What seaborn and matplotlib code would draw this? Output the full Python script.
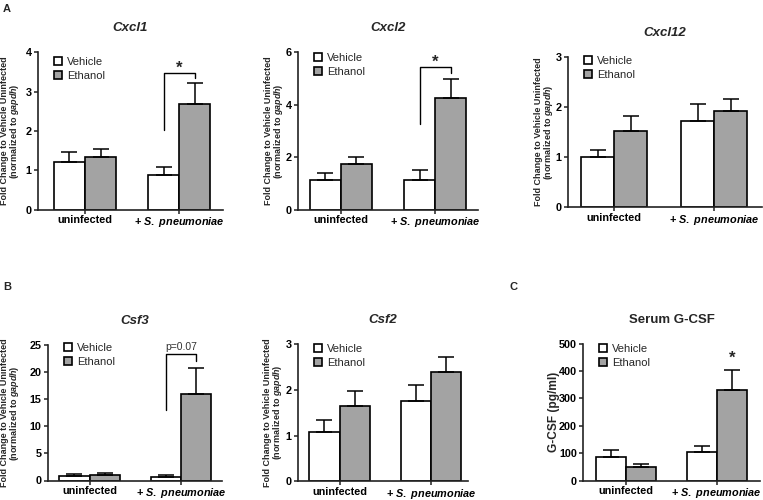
import pandas as pd
import matplotlib.pyplot as plt
import seaborn as sns

# Groups and treatments
conditions = ['uninfected', '+ $S.\\ pneumoniae$']
treatments = ['Vehicle', 'Ethanol']

# Means and SEM (upper error only)
cxcl1_vehicle = [1.21, 0.88]
cxcl1_ethanol = [1.34, 2.69]
cxcl1_vehicle_err = [0.26, 0.21]
cxcl1_ethanol_err = [0.19, 0.53]

cxcl2_vehicle = [1.12, 1.13]
cxcl2_ethanol = [1.74, 4.24]
cxcl2_vehicle_err = [0.26, 0.37]
cxcl2_ethanol_err = [0.28, 0.75]

cxcl12_vehicle = [1.00, 1.72]
cxcl12_ethanol = [1.52, 1.91]
cxcl12_vehicle_err = [0.15, 0.33]
cxcl12_ethanol_err = [0.30, 0.25]

csf3_vehicle = [0.92, 0.67]
csf3_ethanol = [1.10, 15.9]
csf3_vehicle_err = [0.28, 0.37]
csf3_ethanol_err = [0.25, 4.9]

csf2_vehicle = [1.07, 1.76]
csf2_ethanol = [1.64, 2.38]
csf2_vehicle_err = [0.27, 0.34]
csf2_ethanol_err = [0.33, 0.34]

gcsf_vehicle = [87, 106]
gcsf_ethanol = [51, 330]
gcsf_vehicle_err = [24, 21]
gcsf_ethanol_err = [12, 75]

qpcr_label = 'Fold Change to Vehicle Uninfected\n(normalized to $gapdh$)'

# title, italic, ylabel, vehicle, ethanol, verr, eerr, ymax, ystep,
# axes box in pixels (left, top, right, bottom), xlim, ylabel right edge px, legend top px
panels = [
    ('Cxcl1', True, qpcr_label, cxcl1_vehicle, cxcl1_ethanol, cxcl1_vehicle_err, cxcl1_ethanol_err,
     4, 1, (38, 52.3, 223, 209.7), (-0.498, 1.463), 21, 57),
    ('Cxcl2', True, qpcr_label, cxcl2_vehicle, cxcl2_ethanol, cxcl2_vehicle_err, cxcl2_ethanol_err,
     6, 2, (298, 52, 478, 209.7), (-0.457, 1.457), 285, 53),
    ('Cxcl12', True, qpcr_label, cxcl12_vehicle, cxcl12_ethanol, cxcl12_vehicle_err, cxcl12_ethanol_err,
     3, 1, (568, 56.7, 762, 207.3), (-0.46, 1.48), 555, 56),
    ('Csf3', True, qpcr_label, csf3_vehicle, csf3_ethanol, csf3_vehicle_err, csf3_ethanol_err,
     25, 5, (48, 345, 222, 480.5), (-0.454, 1.448), 21, 343),
    ('Csf2', True, qpcr_label, csf2_vehicle, csf2_ethanol, csf2_vehicle_err, csf2_ethanol_err,
     3, 1, (298, 344, 468, 481.3), (-0.454, 1.404), 284, 344),
    ('Serum G-CSF', False, 'G-CSF (pg/ml)', gcsf_vehicle, gcsf_ethanol, gcsf_vehicle_err, gcsf_ethanol_err,
     500, 100, (583, 343.5, 760, 480.8), (-0.469, 1.476), 560, 344),
]

W, H = 763, 500
sns.set_style('ticks')
plt.rcParams['font.family'] = ['Liberation Sans', 'DejaVu Sans']
plt.rcParams['mathtext.fontset'] = 'custom'
plt.rcParams['mathtext.it'] = 'Liberation Sans:italic:bold'
plt.rcParams['mathtext.rm'] = 'Liberation Sans:bold'
plt.rcParams['mathtext.bf'] = 'Liberation Sans:bold'

fig = plt.figure(figsize=(W / 100, H / 100), dpi=100)
bar_gray = '#a3a3a3'
axes = []

for (title, italic, ylabel, veh, eth, verr, eerr, ymax, ystep,
     box, xlim, lab_x, leg_top) in panels:
    l, t, r, b = box
    ax = fig.add_axes([l / W, 1 - b / H, (r - l) / W, (b - t) / H])
    axes.append(ax)

    df = pd.DataFrame({
        'Condition': conditions * 2,
        'Treatment': [treatments[0]] * 2 + [treatments[1]] * 2,
        'Value': veh + eth,
    })
    sns.barplot(data=df, x='Condition', y='Value', hue='Treatment',
                palette=['white', bar_gray], edgecolor='black', linewidth=1.2,
                width=0.66, errorbar=None, ax=ax)

    # upward-only error bars at the bar centres
    for cont, means, errs in zip(ax.containers, [veh, eth], [verr, eerr]):
        xs = [p.get_x() + p.get_width() / 2 for p in cont.patches]
        ax.errorbar(xs, means, yerr=[[0] * len(errs), errs], fmt='none',
                    ecolor='black', elinewidth=1.1, capsize=5.5, capthick=1.1, zorder=1)

    ax.set_xlim(*xlim)
    ax.set_ylim(0, ymax)
    ax.set_yticks(range(0, ymax + 1, ystep))
    sns.despine(ax=ax)
    for s in ['left', 'bottom']:
        ax.spines[s].set_linewidth(1.2)
        ax.spines[s].set_color('#222222')
    ax.tick_params(axis='both', length=3, width=1.1, labelsize=7.8, colors='#222222')
    ax.tick_params(axis='x', pad=1)
    ax.tick_params(axis='y', pad=1.5)
    for lbl in ax.get_xticklabels() + ax.get_yticklabels():
        lbl.set_fontweight('bold')
        lbl.set_color('black')
    ax.set_xlabel('')

    ax.set_ylabel(ylabel, fontsize=6.5 if italic else 8.6, fontweight='bold', linespacing=0.9)
    ax.yaxis.set_label_coords((lab_x - l) / (r - l), 0.5)

    ax.set_title(title, fontsize=9.5, fontweight='bold',
                 fontstyle='italic' if italic else 'normal', pad=15)

    handles, labels = ax.get_legend_handles_labels()
    ax.legend(handles, labels, loc='upper left', frameon=False, fontsize=8,
              bbox_to_anchor=(16 / (r - l), (b - leg_top) / (b - t)), borderaxespad=0, borderpad=0,
              handlelength=0.75, handleheight=0.75, handletextpad=0.45, labelspacing=0.35)


def bracket(ax, y_left, y_top, y_right, label, label_y, **kw):
    x0 = ax.containers[0].patches[1]
    x1 = ax.containers[1].patches[1]
    xa = x0.get_x() + x0.get_width() / 2
    xb = x1.get_x() + x1.get_width() / 2
    ax.plot([xa, xa, xb, xb], [y_left, y_top, y_top, y_right], color='black', lw=1.0, clip_on=False)
    ax.text((xa + xb) / 2, label_y, label, ha='center', va='center', clip_on=False, **kw)


bracket(axes[0], 2.03, 3.48, 3.34, '*', 3.6, fontsize=12, fontweight='bold')
bracket(axes[1], 3.27, 5.44, 5.21, '*', 5.6, fontsize=12, fontweight='bold')
bracket(axes[3], 13.0, 23.3, 22.1, 'p=0.07', 24.6, fontsize=7.5, color='#333333')

# star above the ethanol bar in the serum panel
p = axes[5].containers[1].patches[1]
axes[5].text(p.get_x() + p.get_width() / 2, 448, '*', ha='center', va='center',
             fontsize=12, fontweight='bold')

# panel letters
fig.text(3 / W, 1 - 4 / H, 'A', fontsize=8, fontweight='bold', va='top')
fig.text(3 / W, 1 - 282 / H, 'B', fontsize=8, fontweight='bold', va='top')
fig.text(509 / W, 1 - 282 / H, 'C', fontsize=8, fontweight='bold', va='top')

plt.savefig('out.png', dpi=100)
